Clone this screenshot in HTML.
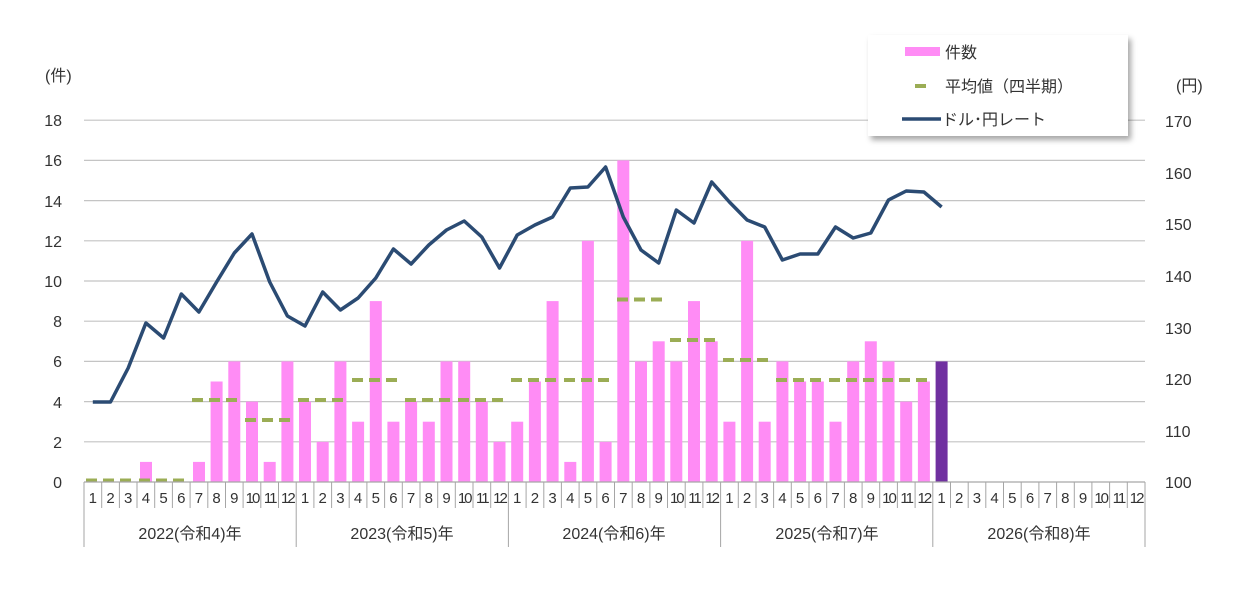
<!DOCTYPE html>
<html><head><meta charset="utf-8"><style>
html,body{margin:0;padding:0;background:#fff;}
svg{display:block;font-family:"Liberation Sans","Noto Sans CJK JP",sans-serif;}
</style></head><body>
<svg width="1240" height="593" viewBox="0 0 1240 593" xmlns="http://www.w3.org/2000/svg">
<defs><filter id="sh" x="-10%" y="-10%" width="130%" height="140%"><feDropShadow dx="3" dy="4" stdDeviation="3" flood-color="#000" flood-opacity="0.35"/></filter></defs>
<g stroke="#c4c4c4" stroke-width="1.2">
<line x1="84" x2="1145" y1="441.8" y2="441.8"/><line x1="84" x2="1145" y1="401.6" y2="401.6"/>
<line x1="84" x2="1145" y1="361.4" y2="361.4"/><line x1="84" x2="1145" y1="321.2" y2="321.2"/>
<line x1="84" x2="1145" y1="281" y2="281"/><line x1="84" x2="1145" y1="240.8" y2="240.8"/>
<line x1="84" x2="1145" y1="200.6" y2="200.6"/><line x1="84" x2="1145" y1="160.4" y2="160.4"/>
<line x1="84" x2="1145" y1="120.2" y2="120.2"/>
</g>
<g font-size="16" fill="#333" text-anchor="end">
<text x="62" y="488">0</text><text x="62" y="448">2</text><text x="62" y="408">4</text><text x="62" y="367">6</text><text x="62" y="327">8</text><text x="62" y="287">10</text><text x="62" y="247">12</text><text x="62" y="207">14</text><text x="62" y="166">16</text><text x="62" y="126">18</text>
</g>
<text x="45" y="81" font-size="16" fill="#333">(件)</text>
<g font-size="16" fill="#333">
<text x="1165" y="488">100</text><text x="1165" y="437">110</text><text x="1165" y="385">120</text><text x="1165" y="334">130</text><text x="1165" y="282">140</text><text x="1165" y="230">150</text><text x="1165" y="179">160</text><text x="1165" y="127">170</text>
</g>
<text x="1176" y="91" font-size="16" fill="#333">(円)</text>
<g fill="#ff8cf5">
<rect x="140" y="461.9" width="12" height="20.1"/>
<rect x="193" y="461.9" width="12" height="20.1"/>
<rect x="210.6" y="381.5" width="12" height="100.5"/>
<rect x="228.3" y="361.4" width="12" height="120.6"/>
<rect x="246" y="401.6" width="12" height="80.4"/>
<rect x="263.7" y="461.9" width="12" height="20.1"/>
<rect x="281.4" y="361.4" width="12" height="120.6"/>
<rect x="299" y="401.6" width="12" height="80.4"/>
<rect x="316.7" y="441.8" width="12" height="40.2"/>
<rect x="334.4" y="361.4" width="12" height="120.6"/>
<rect x="352.1" y="421.7" width="12" height="60.3"/>
<rect x="369.8" y="301.1" width="12" height="180.9"/>
<rect x="387.4" y="421.7" width="12" height="60.3"/>
<rect x="405.1" y="401.6" width="12" height="80.4"/>
<rect x="422.8" y="421.7" width="12" height="60.3"/>
<rect x="440.5" y="361.4" width="12" height="120.6"/>
<rect x="458.2" y="361.4" width="12" height="120.6"/>
<rect x="475.8" y="401.6" width="12" height="80.4"/>
<rect x="493.5" y="441.8" width="12" height="40.2"/>
<rect x="511.2" y="421.7" width="12" height="60.3"/>
<rect x="528.9" y="381.5" width="12" height="100.5"/>
<rect x="546.6" y="301.1" width="12" height="180.9"/>
<rect x="564.3" y="461.9" width="12" height="20.1"/>
<rect x="581.9" y="240.8" width="12" height="241.2"/>
<rect x="599.6" y="441.8" width="12" height="40.2"/>
<rect x="617.3" y="160.4" width="12" height="321.6"/>
<rect x="635" y="361.4" width="12" height="120.6"/>
<rect x="652.7" y="341.3" width="12" height="140.7"/>
<rect x="670.3" y="361.4" width="12" height="120.6"/>
<rect x="688" y="301.1" width="12" height="180.9"/>
<rect x="705.7" y="341.3" width="12" height="140.7"/>
<rect x="723.4" y="421.7" width="12" height="60.3"/>
<rect x="741.1" y="240.8" width="12" height="241.2"/>
<rect x="758.7" y="421.7" width="12" height="60.3"/>
<rect x="776.4" y="361.4" width="12" height="120.6"/>
<rect x="794.1" y="381.5" width="12" height="100.5"/>
<rect x="811.8" y="381.5" width="12" height="100.5"/>
<rect x="829.5" y="421.7" width="12" height="60.3"/>
<rect x="847.2" y="361.4" width="12" height="120.6"/>
<rect x="864.8" y="341.3" width="12" height="140.7"/>
<rect x="882.5" y="361.4" width="12" height="120.6"/>
<rect x="900.2" y="401.6" width="12" height="80.4"/>
<rect x="917.9" y="381.5" width="12" height="100.5"/>
</g>
<rect x="935.6" y="361.4" width="12" height="120.6" fill="#7030a0"/>
<g stroke="#9bad55" stroke-width="4" stroke-dasharray="11,6">
<line x1="86" x2="137" y1="480.5" y2="480.5"/>
<line x1="139" x2="190" y1="480.5" y2="480.5"/>
<line x1="192" x2="243" y1="400" y2="400"/>
<line x1="245" x2="296" y1="420" y2="420"/>
<line x1="298" x2="349" y1="400" y2="400"/>
<line x1="352" x2="402" y1="380" y2="380"/>
<line x1="405" x2="455" y1="400" y2="400"/>
<line x1="458" x2="508" y1="400" y2="400"/>
<line x1="511" x2="561" y1="380" y2="380"/>
<line x1="564" x2="614" y1="380" y2="380"/>
<line x1="617" x2="667" y1="299.5" y2="299.5"/>
<line x1="670" x2="720" y1="340" y2="340"/>
<line x1="723" x2="773" y1="360" y2="360"/>
<line x1="776" x2="826" y1="380" y2="380"/>
<line x1="829" x2="879" y1="380" y2="380"/>
<line x1="882" x2="932" y1="380" y2="380"/>
</g>
<polyline fill="none" stroke="#2b4b73" stroke-width="3.5" stroke-linejoin="round" points="92.8,402 110.5,402 128.2,368 145.9,323 163.6,338 181.3,294 198.9,312 216.6,282 234.3,253 252,234 269.7,282 287.4,316 305,326 322.7,292 340.4,310 358.1,298 375.8,278 393.4,249 411.1,264 428.8,245 446.5,230 464.2,221 481.8,237 499.5,268 517.2,235 534.9,225 552.6,217 570.3,188 587.9,187 605.6,167 623.3,217 641,250 658.7,263 676.3,210 694,223 711.7,182 729.4,202 747.1,220 764.7,227 782.4,260 800.1,254 817.8,254 835.5,227 853.2,238 870.8,233 888.5,200 906.2,191 923.9,192 941.6,207"/>
<line x1="84" x2="1145" y1="482" y2="482" stroke="#a6a6a6" stroke-width="1.2"/>
<g stroke="#a6a6a6" stroke-width="1">
<line x1="84" x2="84" y1="482" y2="547"/><line x1="296.2" x2="296.2" y1="482" y2="547"/><line x1="508.4" x2="508.4" y1="482" y2="547"/><line x1="720.6" x2="720.6" y1="482" y2="547"/><line x1="932.8" x2="932.8" y1="482" y2="547"/><line x1="1145" x2="1145" y1="482" y2="547"/>
</g>
<g stroke="#a6a6a6" stroke-width="1" id="ticks">
<line x1="101.7" x2="101.7" y1="482" y2="508"/><line x1="119.4" x2="119.4" y1="482" y2="508"/><line x1="137" x2="137" y1="482" y2="508"/><line x1="154.7" x2="154.7" y1="482" y2="508"/><line x1="172.4" x2="172.4" y1="482" y2="508"/><line x1="190.1" x2="190.1" y1="482" y2="508"/><line x1="207.8" x2="207.8" y1="482" y2="508"/><line x1="225.5" x2="225.5" y1="482" y2="508"/><line x1="243.1" x2="243.1" y1="482" y2="508"/><line x1="260.8" x2="260.8" y1="482" y2="508"/><line x1="278.5" x2="278.5" y1="482" y2="508"/>
</g>
<use href="#ticks" x="212.2"/><use href="#ticks" x="424.4"/><use href="#ticks" x="636.6"/><use href="#ticks" x="848.8"/>
<g font-size="15" fill="#333" text-anchor="middle">
<text x="92.8" y="503">1</text><text x="110.5" y="503">2</text><text x="128.2" y="503">3</text><text x="145.9" y="503">4</text><text x="163.6" y="503">5</text><text x="181.3" y="503">6</text><text x="198.9" y="503">7</text><text x="216.6" y="503">8</text><text x="234.3" y="503">9</text><text x="252" y="503" letter-spacing="-2">10</text><text x="269.7" y="503" letter-spacing="-2">11</text><text x="287.4" y="503" letter-spacing="-2">12</text>
<text x="305" y="503">1</text><text x="322.7" y="503">2</text><text x="340.4" y="503">3</text><text x="358.1" y="503">4</text><text x="375.8" y="503">5</text><text x="393.4" y="503">6</text><text x="411.1" y="503">7</text><text x="428.8" y="503">8</text><text x="446.5" y="503">9</text><text x="464.2" y="503" letter-spacing="-2">10</text><text x="481.8" y="503" letter-spacing="-2">11</text><text x="499.5" y="503" letter-spacing="-2">12</text>
<text x="517.2" y="503">1</text><text x="534.9" y="503">2</text><text x="552.6" y="503">3</text><text x="570.3" y="503">4</text><text x="587.9" y="503">5</text><text x="605.6" y="503">6</text><text x="623.3" y="503">7</text><text x="641" y="503">8</text><text x="658.7" y="503">9</text><text x="676.3" y="503" letter-spacing="-2">10</text><text x="694" y="503" letter-spacing="-2">11</text><text x="711.7" y="503" letter-spacing="-2">12</text>
<text x="729.4" y="503">1</text><text x="747.1" y="503">2</text><text x="764.7" y="503">3</text><text x="782.4" y="503">4</text><text x="800.1" y="503">5</text><text x="817.8" y="503">6</text><text x="835.5" y="503">7</text><text x="853.2" y="503">8</text><text x="870.8" y="503">9</text><text x="888.5" y="503" letter-spacing="-2">10</text><text x="906.2" y="503" letter-spacing="-2">11</text><text x="923.9" y="503" letter-spacing="-2">12</text>
<text x="941.6" y="503">1</text><text x="959.2" y="503">2</text><text x="976.9" y="503">3</text><text x="994.6" y="503">4</text><text x="1012.3" y="503">5</text><text x="1030" y="503">6</text><text x="1047.7" y="503">7</text><text x="1065.3" y="503">8</text><text x="1083" y="503">9</text><text x="1100.7" y="503" letter-spacing="-2">10</text><text x="1118.4" y="503" letter-spacing="-2">11</text><text x="1136.1" y="503" letter-spacing="-2">12</text>
</g>
<g font-size="16" fill="#333" text-anchor="middle">
<text x="190" y="539">2022(令和4)年</text><text x="402" y="539">2023(令和5)年</text><text x="614" y="539">2024(令和6)年</text><text x="827" y="539">2025(令和7)年</text><text x="1039" y="539">2026(令和8)年</text>
</g>
<rect x="868" y="35" width="260" height="101" fill="#fff" filter="url(#sh)"/>
<rect x="905" y="47" width="35" height="9" fill="#ff8cf5"/>
<text x="945" y="58" font-size="16" fill="#333">件数</text>
<line x1="915" x2="926" y1="86" y2="86" stroke="#9bad55" stroke-width="4"/>
<text x="945" y="92" font-size="16" fill="#333">平均値（四半期）</text>
<line x1="902" x2="941" y1="119" y2="119" stroke="#2b4b73" stroke-width="3.5"/>
<text x="942" y="125" font-size="16" fill="#333">ドル･円レート</text>
</svg>
</body></html>
